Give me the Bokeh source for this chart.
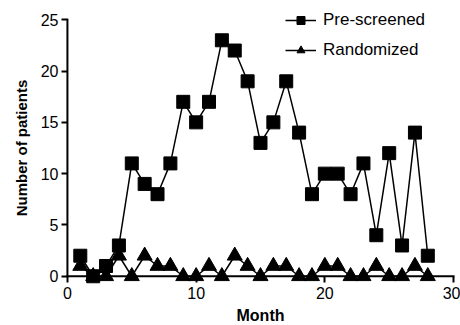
from bokeh.plotting import figure
from bokeh.models import Range1d, Legend, LegendItem, FixedTicker
from bokeh.embed import file_html
from bokeh.resources import INLINE

months = list(range(1, 29))
prescreened = [2, 0, 1, 3, 11, 9, 8, 11, 17, 15, 17, 23, 22, 19, 13, 15, 19, 14, 8, 10, 10, 8, 11, 4, 12, 3, 14, 2]
randomized = [1, 0, 0, 2, 0, 2, 1, 1, 0, 0, 1, 0, 2, 1, 0, 1, 1, 0, 0, 1, 1, 0, 0, 1, 0, 0, 1, 0]
x_ticks = [0, 10, 20, 30]
y_ticks = [0, 5, 10, 15, 20, 25]

FONT = "Liberation Sans"

# the frame fills the whole canvas; both axes are pinned at 0
p = figure(width=460, height=325, output_backend="svg", toolbar_location=None,
           x_range=Range1d(-5.2, 30.54), y_range=Range1d(-4.8, 26),
           min_border_left=0, min_border_right=0, min_border_top=9, min_border_bottom=0)
p.outline_line_color = None
p.grid.visible = False
p.background_fill_color = "white"

# axis rules (x from first to last x tick at y=0, y from first to last y tick at x=0)
p.segment(x0=[x_ticks[0], x_ticks[0]], y0=[y_ticks[0], y_ticks[0]],
          x1=[x_ticks[-1], x_ticks[0]], y1=[y_ticks[0], y_ticks[-1]],
          line_color="black", line_width=2, line_cap="square")

l1 = p.line(months, prescreened, line_color="black", line_width=1.5)
m1 = p.scatter(months, prescreened, marker="square", size=13, fill_color="black", line_color="black")
l2 = p.line(months, randomized, line_color="black", line_width=1.5)
m2 = p.scatter(months, randomized, marker="triangle", size=15, fill_color="black", line_color="black")

def style(ax):
    ax.axis_line_color = None
    ax.major_tick_line_color = "black"
    ax.major_tick_line_width = 2
    ax.major_tick_out = 6
    ax.major_tick_in = 0
    ax.minor_tick_line_color = None
    ax.major_label_text_font = FONT
    ax.major_label_text_font_size = "16px"
    ax.major_label_text_color = "black"
    ax.axis_label_text_font = FONT
    ax.axis_label_text_font_style = "bold"
    ax.axis_label_text_font_size = "15px"
    ax.axis_label_text_color = "black"

yax = p.yaxis[0]
style(yax)
yax.ticker = FixedTicker(ticks=y_ticks)
yax.bounds = (0, 25)
yax.fixed_location = 0
yax.axis_label = "Number of patients"
yax.major_label_standoff = 3
yax.axis_label_standoff = 8

xax = p.xaxis[0]
style(xax)
xax.ticker = FixedTicker(ticks=x_ticks)
xax.bounds = (0, 30)
xax.fixed_location = 0
xax.axis_label = "Month"
xax.axis_label_text_font_size = "16px"
xax.major_label_standoff = 5
xax.axis_label_standoff = 4

legend = Legend(items=[LegendItem(label="Pre-screened", renderers=[l1, m1]),
                       LegendItem(label="Randomized", renderers=[l2, m2])],
                location=(285, 265), border_line_color=None, background_fill_alpha=0,
                padding=0, margin=0, spacing=10, label_height=20, glyph_height=20, glyph_width=31,
                label_standoff=7, label_text_font=FONT, label_text_font_size="17px",
                label_text_color="black")
p.add_layout(legend, "center")

open("out.html", "w").write(file_html(p, INLINE))
